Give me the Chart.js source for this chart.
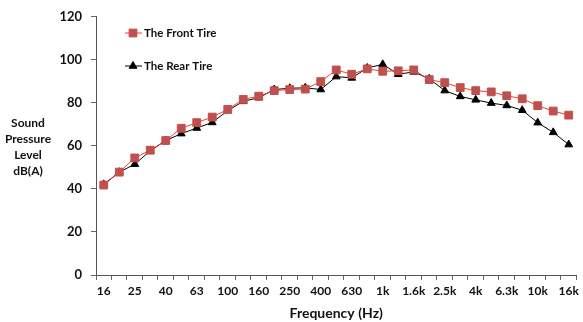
<!DOCTYPE html>
<html>
<head>
<meta charset="utf-8">
<script src="https://cdn.jsdelivr.net/npm/chart.js@4/dist/chart.umd.min.js"></script>
<style>
  html, body { margin: 0; padding: 0; background: #fff; }
  #wrap { width: 583px; height: 322px; }
</style>
</head>
<body>
<div id="wrap"><canvas id="c" width="583" height="322"></canvas></div>
<script>
// One-third octave band centre frequencies
const bands = ['16','20','25','31.5','40','50','63','80','100','125','160','200','250','315','400','500','630','800','1k','1.25k','1.6k','2k','2.5k','3.15k','4k','5k','6.3k','8k','10k','12.5k','16k'];
// Labels shown under the axis (every other band)
const shownLabels = ['16','25','40','63','100','160','250','400','630','1k','1.6k','2.5k','4k','6.3k','10k','16k'];

// Sound pressure level, dB(A)
const frontTire = [41.8, 47.8, 54.4, 58.0, 62.5, 68.2, 70.8, 73.4, 77.0, 81.6, 83.1, 85.7, 86.2, 86.4, 89.9, 95.3, 93.3, 95.8, 94.7, 94.9, 95.3, 90.8, 89.4, 87.1, 85.7, 85.1, 83.3, 81.9, 78.7, 76.2, 74.3];
const rearTire  = [42.1, 47.8, 51.5, 57.7, 62.5, 65.7, 68.3, 70.9, 76.4, 80.7, 82.4, 86.2, 86.8, 87.0, 86.2, 92.2, 91.6, 96.2, 97.9, 93.3, 94.4, 91.2, 85.7, 83.0, 81.4, 79.9, 78.8, 76.6, 70.8, 66.3, 60.6];

const yTitleLines = ['Sound', 'Pressure', 'Level', 'dB(A)'];
const FONT = 'Lato, "Open Sans", sans-serif';

// Horizontal multi-line y-axis title and an in-plot legend
const extras = {
  id: 'extras',
  afterDraw(chart) {
    const ctx = chart.ctx;
    ctx.save();
    ctx.fillStyle = '#111';
    ctx.font = 'bold 12px ' + FONT;
    ctx.textAlign = 'center';
    ctx.textBaseline = 'middle';
    yTitleLines.forEach((t, i) => ctx.fillText(t, 28, 123 + i * 16));

    const items = [
      { ds: chart.data.datasets[0], y: 33 },
      { ds: chart.data.datasets[1], y: 66 }
    ];
    items.forEach(it => {
      ctx.strokeStyle = it.ds.borderColor;
      ctx.lineWidth = 1;
      ctx.beginPath();
      ctx.moveTo(125, it.y);
      ctx.lineTo(142, it.y);
      ctx.stroke();
      ctx.fillStyle = it.ds.pointBackgroundColor;
      ctx.strokeStyle = it.ds.pointBorderColor;
      Chart.helpers.drawPoint(ctx, {
        pointStyle: it.ds.pointStyle,
        rotation: 0,
        radius: it.ds.pointRadius,
        borderWidth: 1
      }, 133, it.y);
      ctx.fillStyle = '#111';
      ctx.textAlign = 'left';
      ctx.font = 'bold 11.5px ' + FONT;
      ctx.fillText(it.ds.label, 144, it.y);
    });
    ctx.restore();
  }
};

new Chart(document.getElementById('c'), {
  type: 'line',
  data: {
    labels: bands,
    datasets: [
      {
        label: 'The Front Tire',
        data: frontTire,
        borderColor: '#f03c3c',
        borderWidth: 1,
        pointStyle: 'rect',
        pointRadius: 5.5,
        pointBackgroundColor: '#c0504d',
        pointBorderColor: '#c0504d',
        pointBorderWidth: 1,
        tension: 0
      },
      {
        label: 'The Rear Tire',
        data: rearTire,
        borderColor: '#000',
        borderWidth: 1,
        pointStyle: 'triangle',
        pointRadius: 4.5,
        pointBackgroundColor: '#000',
        pointBorderColor: '#000',
        pointBorderWidth: 1,
        tension: 0
      }
    ]
  },
  options: {
    responsive: false,
    animation: false,
    layout: { padding: { top: 10, right: 6, left: 0, bottom: 0 } },
    plugins: { legend: { display: false }, tooltip: { enabled: false } },
    scales: {
      x: {
        offset: true,
        grid: { offset: true, drawOnChartArea: false, drawTicks: true, tickLength: 5, color: '#666' },
        border: { color: '#555', width: 1 },
        ticks: {
          autoSkip: false,
          maxRotation: 0,
          padding: 4,
          color: '#111',
          font: { family: FONT, size: 12, weight: 'bold' },
          callback: (v, i) => shownLabels.includes(bands[i]) ? bands[i] : ''
        },
        title: {
          display: true,
          text: 'Frequency (Hz)',
          color: '#111',
          font: { family: FONT, size: 14, weight: 'bold' },
          padding: { top: 0, bottom: 0 }
        },
        afterFit: s => { s.height = 47; }
      },
      y: {
        min: 0,
        max: 120,
        grid: { drawOnChartArea: false, drawTicks: true, tickLength: 5, color: '#666' },
        border: { color: '#555', width: 1 },
        ticks: {
          stepSize: 20,
          padding: 9,
          color: '#111',
          font: { family: FONT, size: 13, weight: 'bold' }
        },
        afterFit: s => { s.width = 96; }
      }
    }
  },
  plugins: [extras]
});
</script>
</body>
</html>
